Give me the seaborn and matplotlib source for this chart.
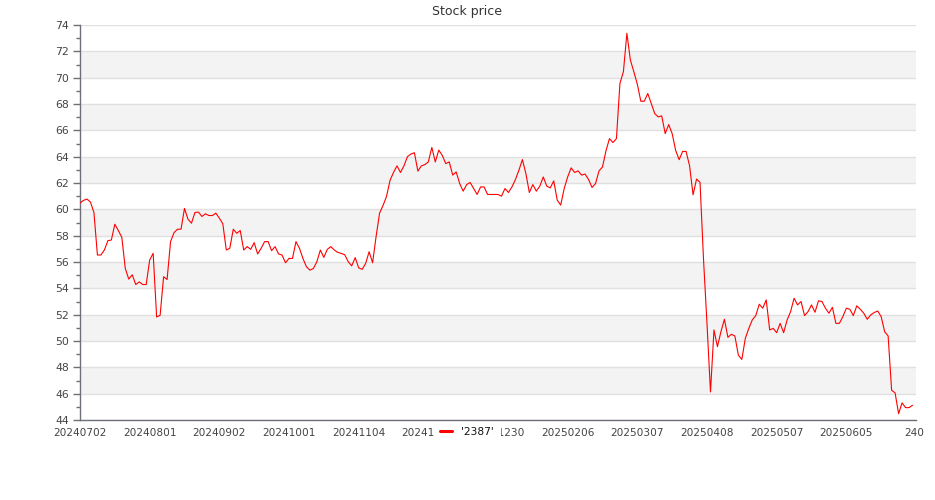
import numpy as np
import pandas as pd
import matplotlib
matplotlib.use("Agg")
import matplotlib.pyplot as plt
import seaborn as sns
from matplotlib.lines import Line2D
from matplotlib.patches import Rectangle
from matplotlib.ticker import MultipleLocator

# ---------------- data ----------------
series_name = "'2387'"
title = "Stock price"

price = [
    60.47, 60.68, 60.78, 60.55, 59.76, 56.53, 56.53, 56.91, 57.62, 57.67,
    58.87, 58.39, 57.88, 55.51, 54.70, 55.03, 54.29, 54.49, 54.29, 54.29,
    56.15, 56.66, 51.82, 51.95, 54.88, 54.67, 57.55, 58.23, 58.49, 58.49,
    60.07, 59.25, 58.95, 59.76, 59.79, 59.46, 59.66, 59.53, 59.53, 59.71,
    59.33, 58.90, 56.91, 57.04, 58.49, 58.18, 58.39, 56.91, 57.17, 56.96,
    57.47, 56.61, 57.04, 57.55, 57.55, 56.86, 57.17, 56.61, 56.53, 55.94,
    56.27, 56.27, 57.55, 57.04, 56.27, 55.64, 55.38, 55.51, 56.02, 56.91,
    56.35, 56.96, 57.17, 56.91, 56.73, 56.65, 56.55, 56.02, 55.71, 56.33,
    55.56, 55.44, 55.89, 56.78, 55.94, 57.93, 59.71, 60.30, 60.98, 62.20,
    62.80, 63.30, 62.80, 63.30, 64.00, 64.20, 64.30, 62.90, 63.30, 63.40,
    63.60, 64.70, 63.60, 64.50, 64.10, 63.47, 63.60, 62.60, 62.84, 61.96,
    61.38, 61.88, 62.04, 61.58, 61.13, 61.70, 61.70, 61.13, 61.13, 61.13,
    61.13, 61.00, 61.58, 61.28, 61.70, 62.26, 62.97, 63.78, 62.72, 61.28,
    61.88, 61.38, 61.76, 62.46, 61.76, 61.63, 62.16, 60.70, 60.32, 61.58,
    62.46, 63.15, 62.80, 62.92, 62.60, 62.68, 62.26, 61.66, 61.96, 62.92,
    63.22, 64.45, 65.37, 65.07, 65.37, 69.56, 70.45, 73.37, 71.34, 70.45,
    69.50, 68.21, 68.21, 68.80, 68.04, 67.27, 67.02, 67.10, 65.75, 66.44,
    65.75, 64.48, 63.77, 64.40, 64.40, 63.30, 61.10, 62.30, 62.05, 56.20,
    51.30, 46.13, 50.84, 49.57, 50.71, 51.65, 50.28, 50.51, 50.38, 48.93,
    48.60, 50.20, 50.96, 51.60, 51.93, 52.79, 52.49, 53.12, 50.84, 50.96,
    50.63, 51.34, 50.63, 51.60, 52.23, 53.25, 52.74, 53.00, 51.93, 52.23,
    52.74, 52.18, 53.05, 53.00, 52.49, 52.11, 52.56, 51.34, 51.34, 51.85,
    52.49, 52.41, 51.93, 52.67, 52.41, 52.11, 51.65, 51.98, 52.16, 52.28,
    51.85, 50.71, 50.38, 46.26, 46.06, 44.48, 45.30, 44.94, 44.94, 45.12,
]

tick_labels = [
    "20240702", "20240801", "20240902", "20241001", "20241104", "20241202",
    "20241230", "20250206", "20250307", "20250408", "20250507", "20250605",
]
last_label_fragment = "240"

# ---------------- style ----------------
sns.set_style("white")
plt.rcParams["font.family"] = ["DejaVu Sans"]

W, H = 935, 500
fig = plt.figure(figsize=(W / 100, H / 100), dpi=100)
L, R, T, B = 80, 916, 25, 420
ax = fig.add_axes([L / W, 1 - B / H, (R - L) / W, (B - T) / H])

df = pd.DataFrame({"idx": np.arange(len(price)), "price": price})
sns.lineplot(data=df, x="idx", y="price", color="#ff0000", lw=0.8,
             ax=ax, legend=False, zorder=3)

ax.set_xlim(0, len(price))
ax.set_ylim(44, 74)

# alternating bands
for v in range(46, 74, 4):
    ax.axhspan(v, v + 2, color="#f3f3f3", lw=0, zorder=0)

ax.yaxis.set_major_locator(MultipleLocator(2))
ax.yaxis.set_minor_locator(MultipleLocator(1))
ax.grid(axis="y", which="major", color="#e0e0e0", lw=1, zorder=1)
ax.grid(axis="x", visible=False)
ax.set_axisbelow(True)

step = 20
ax.set_xticks(np.arange(len(tick_labels)) * step)
ax.set_xticklabels(tick_labels)
ax.tick_params(axis="x", length=0, pad=6, labelsize=7.6, labelcolor="#444444")
ax.tick_params(axis="y", which="major", length=5, width=1, color="#6e7079",
               labelsize=7.8, labelcolor="#444444", pad=3, left=True)
ax.tick_params(axis="y", which="minor", length=3, width=1, color="#6e7079",
               left=True)
ax.set_xlabel("")
ax.set_ylabel("")

for s in ["top", "right"]:
    ax.spines[s].set_visible(False)
for s in ["left", "bottom"]:
    ax.spines[s].set_color("#6e7079")
    ax.spines[s].set_linewidth(1)

fig.text(0.5, 1 - 12 / H, title, ha="center", va="center",
         fontsize=9, color="#333333")

fig.text(904 / W, 1 - 433.5 / H, last_label_fragment, ha="left",
         va="center", fontsize=7.6, color="#444444")

# legend background covering part of the axis labels
fig.patches.append(Rectangle((435 / W, 1 - 442 / H), 66 / W, 17 / H,
                             transform=fig.transFigure, facecolor="white",
                             edgecolor="none", zorder=3))
handle = Line2D([], [], color="#ff0000", lw=2.2)
fig.legend([handle], [series_name], loc="center",
           bbox_to_anchor=(467 / W, 1 - 432 / H),
           bbox_transform=fig.transFigure, frameon=False, fontsize=7.7,
           handlelength=1.05, handletextpad=0.85, labelcolor="#111111")

fig.savefig("out.png", dpi=100)
